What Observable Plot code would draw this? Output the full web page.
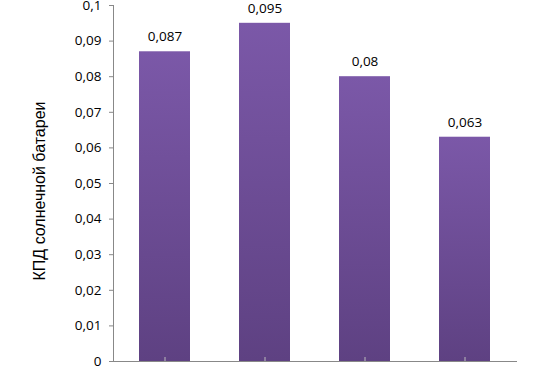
<!DOCTYPE html>
<html><head><meta charset="utf-8">
<script src="https://cdn.jsdelivr.net/npm/d3@7"></script>
<script src="https://cdn.jsdelivr.net/npm/@observablehq/plot@0.6"></script>
<style>body{margin:0;background:#fff}</style>
</head><body><div id="chart"></div>
<script>
const categories = ["1", "2", "3", "4"];
const values = [0.087, 0.095, 0.08, 0.063];
const yTicks = [0, 0.01, 0.02, 0.03, 0.04, 0.05, 0.06, 0.07, 0.08, 0.09, 0.1];
const yLabel = "КПД солнечной батареи";

const data = categories.map((c, i) => ({cat: c, value: values[i]}));
const fmt = v => String(v).replace(".", ",");

const chart = Plot.plot({
  width: 554, height: 369,
  marginLeft: 113, marginRight: 38, marginTop: 5, marginBottom: 8,
  style: {fontFamily: "'Open Sans', sans-serif", fontSize: "13px", color: "#000", background: "#fff"},
  x: {domain: categories, paddingInner: 0.49, paddingOuter: 0.245, axis: null},
  y: {domain: [0, 0.1], ticks: yTicks, tickFormat: fmt, label: null, tickSize: 4},
  marks: [
    Plot.barY(data, {x: "cat", y: "value", fill: "url(#barGrad)"}),
    Plot.text(data, {x: "cat", y: "value", text: d => fmt(d.value), dy: -15, fontSize: 13.5, fill: "#000"}),
    Plot.axisY({ticks: yTicks, tickFormat: fmt, tickSize: 4, stroke: "#888", label: null, fontSize: 13.5, tickPadding: 8}),
    Plot.axisX({tickFormat: () => "", tickSize: -4, stroke: "#bbb", label: null}),
    Plot.frame({anchor: "left", stroke: "#888"}),
    Plot.frame({anchor: "bottom", stroke: "#888"})
  ]
});

const ns = "http://www.w3.org/2000/svg";
const defs = document.createElementNS(ns, "defs");
defs.innerHTML = '<linearGradient id="barGrad" x1="0" y1="0" x2="0" y2="1"><stop offset="0" stop-color="#7b58a8"/><stop offset="1" stop-color="#5e4182"/></linearGradient>';
chart.insertBefore(defs, chart.firstChild);

const lab = document.createElementNS(ns, "text");
lab.setAttribute("transform", "translate(45,191) rotate(-90)");
lab.setAttribute("text-anchor", "middle");
lab.setAttribute("font-family", "'Liberation Sans', Arial, sans-serif");
lab.setAttribute("font-size", "16");
lab.textContent = yLabel;
chart.appendChild(lab);

document.getElementById("chart").appendChild(chart);
</script></body></html>
